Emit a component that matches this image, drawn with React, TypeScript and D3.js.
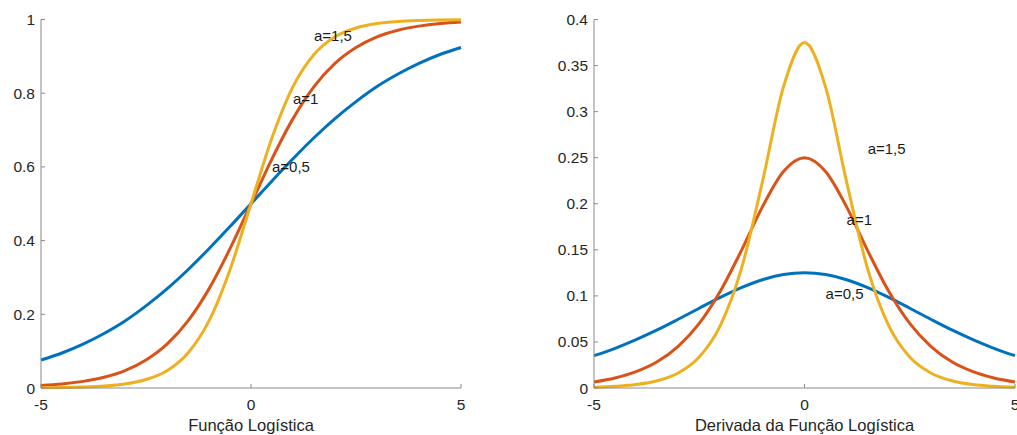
import React from "react";
import * as d3 from "d3";

const xs = [-5, -4.5, -4, -3.5, -3, -2.5, -2, -1.5, -1, -0.5, 0, 0.5, 1, 1.5, 2, 2.5, 3, 3.5, 4, 4.5, 5];

const logA05 = [0.076, 0.095, 0.119, 0.148, 0.182, 0.223, 0.269, 0.321, 0.378, 0.438, 0.5, 0.562, 0.622, 0.679, 0.731, 0.777, 0.818, 0.852, 0.881, 0.905, 0.924];
const logA1 = [0.007, 0.011, 0.018, 0.029, 0.047, 0.076, 0.119, 0.182, 0.269, 0.378, 0.5, 0.622, 0.731, 0.818, 0.881, 0.924, 0.953, 0.971, 0.982, 0.989, 0.993];
const logA15 = [0.0006, 0.0012, 0.0025, 0.0052, 0.011, 0.023, 0.047, 0.095, 0.182, 0.321, 0.5, 0.679, 0.818, 0.905, 0.953, 0.977, 0.989, 0.9948, 0.9975, 0.9988, 0.9994];

const derA05 = [0.0351, 0.0431, 0.0525, 0.063, 0.0746, 0.0866, 0.0983, 0.1089, 0.1175, 0.1231, 0.125, 0.1231, 0.1175, 0.1089, 0.0983, 0.0866, 0.0746, 0.063, 0.0525, 0.0431, 0.0351];
const derA1 = [0.0066, 0.0109, 0.0177, 0.0284, 0.0452, 0.0701, 0.105, 0.1491, 0.1966, 0.235, 0.25, 0.235, 0.1966, 0.1491, 0.105, 0.0701, 0.0452, 0.0284, 0.0177, 0.0109, 0.0066];
const derA15 = [0.0008, 0.0018, 0.0037, 0.0078, 0.0163, 0.0337, 0.0678, 0.1293, 0.2237, 0.3268, 0.375, 0.3268, 0.2237, 0.1293, 0.0678, 0.0337, 0.0163, 0.0078, 0.0037, 0.0018, 0.0008];

const xTicks = [-5, 0, 5];
const leftYTicks = [0, 0.2, 0.4, 0.6, 0.8, 1];
const leftYLabels = ["0", "0.2", "0.4", "0.6", "0.8", "1"];
const rightYTicks = [0, 0.05, 0.1, 0.15, 0.2, 0.25, 0.3, 0.35, 0.4];
const rightYLabels = ["0", "0.05", "0.1", "0.15", "0.2", "0.25", "0.3", "0.35", "0.4"];

const colors = ["#0072BD", "#D95319", "#EDB120"];
const FONT = "'Liberation Sans', Arial, Helvetica, sans-serif";

type PanelProps = {
  x0: number;
  x1: number;
  yMax: number;
  yTicks: number[];
  yLabels: string[];
  series: number[][];
  title: string;
  annotations: { text: string; x: number; y: number }[];
};

function Panel({ x0, x1, yMax, yTicks, yLabels, series, title, annotations }: PanelProps) {
  const top = 19.5;
  const bottom = 388;
  const xScale = d3.scaleLinear().domain([-5, 5]).range([x0, x1]);
  const yScale = d3.scaleLinear().domain([0, yMax]).range([bottom, top]);
  const line = d3
    .line<number>()
    .x((_, i) => xScale(xs[i]))
    .y((d) => yScale(d))
    .curve(d3.curveMonotoneX);
  const axisColor = "#8a8a8a";
  const textColor = "#262626";
  return (
    <g>
      {series.map((s, i) => (
        <path key={i} d={line(s) || ""} fill="none" stroke={colors[i]} strokeWidth={3} strokeLinejoin="round" />
      ))}
      <line x1={x0} x2={x1} y1={bottom} y2={bottom} stroke={axisColor} strokeWidth={1} />
      <line x1={x0} x2={x0} y1={top} y2={bottom} stroke={axisColor} strokeWidth={1} />
      {xTicks.map((t) => (
        <g key={t}>
          <line x1={xScale(t)} x2={xScale(t)} y1={bottom} y2={bottom - 4} stroke={axisColor} />
          <text x={xScale(t)} y={bottom + 22} textAnchor="middle" fontFamily={FONT} fontSize={15.5} fill={textColor}>
            {t}
          </text>
        </g>
      ))}
      {yTicks.map((t, i) => (
        <g key={t}>
          <line x1={x0} x2={x0 + 4} y1={yScale(t)} y2={yScale(t)} stroke={axisColor} />
          <text x={x0 - 6} y={yScale(t) + 5.5} textAnchor="end" fontFamily={FONT} fontSize={15.5} fill={textColor}>
            {yLabels[i]}
          </text>
        </g>
      ))}
      <text x={(x0 + x1) / 2} y={430.5} textAnchor="middle" fontFamily={FONT} fontSize={16.5} fill={textColor}>
        {title}
      </text>
      {annotations.map((a, i) => (
        <text key={i} x={xScale(a.x)} y={yScale(a.y)} fontFamily={FONT} fontSize={15} fill="#1a1a1a">
          {a.text}
        </text>
      ))}
    </g>
  );
}

export default function App() {
  return (
    <svg width={1017} height={435} style={{ position: "absolute", left: 0, top: 0, background: "#fff" }}>
      <rect width={1017} height={435} fill="#fff" />
      <Panel
        x0={41}
        x1={461}
        yMax={1}
        yTicks={leftYTicks}
        yLabels={leftYLabels}
        series={[logA05, logA1, logA15]}
        title="Função Logística"
        annotations={[
          { text: "a=1,5", x: 1.5, y: 0.942 },
          { text: "a=1", x: 1.0, y: 0.772 },
          { text: "a=0,5", x: 0.5, y: 0.585 },
        ]}
      />
      <Panel
        x0={594}
        x1={1015}
        yMax={0.4}
        yTicks={rightYTicks}
        yLabels={rightYLabels}
        series={[derA05, derA1, derA15]}
        title="Derivada da Função Logística"
        annotations={[
          { text: "a=1,5", x: 1.5, y: 0.254 },
          { text: "a=1", x: 1.0, y: 0.177 },
          { text: "a=0,5", x: 0.5, y: 0.097 },
        ]}
      />
    </svg>
  );
}
